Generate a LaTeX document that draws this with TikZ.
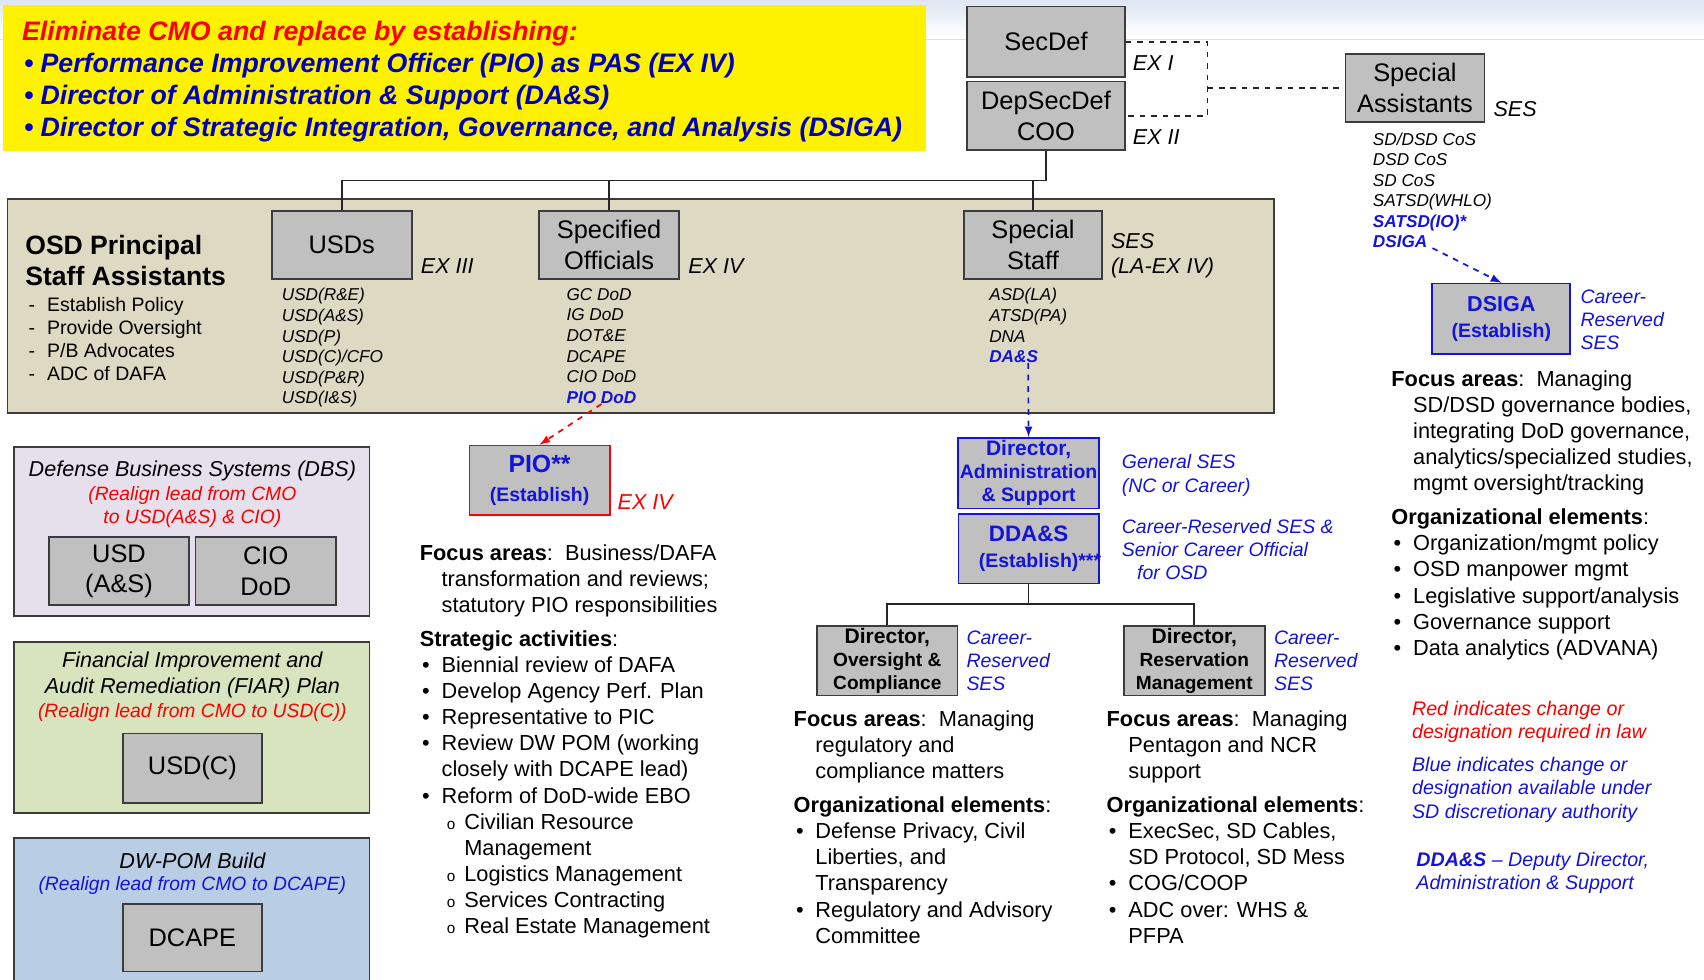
\documentclass[tikz,border=0pt]{standalone}
\usepackage{fontspec}
\setmainfont{Liberation Sans}
\usetikzlibrary{positioning}

\definecolor{boxgray}{RGB}{192,192,192}
\definecolor{edgegray}{RGB}{60,60,60}
\definecolor{tanfill}{RGB}{221,217,195}
\definecolor{lavfill}{RGB}{229,224,236}
\definecolor{grnfill}{RGB}{215,228,189}
\definecolor{bluefill}{RGB}{185,205,229}
\definecolor{chgblue}{RGB}{20,20,215}
\definecolor{navyblue}{RGB}{0,0,185}
\definecolor{lawred}{RGB}{250,0,0}
\definecolor{bandblue}{RGB}{222,230,241}

\newcommand{\fs}[2]{\fontsize{#1}{#2}\selectfont}
\newcommand{\itm}{\makebox[11.4pt][l]{\hspace{1.2pt}\textbullet}}
\newcommand{\ind}{\hspace*{11.4pt}}
\newcommand{\subitm}{\hspace*{14.2pt}\makebox[9.1pt][l]{\fs{8}{8}o}}
\newcommand{\bnr}{\makebox[9.7pt][l]{\hspace{1pt}\textbullet}}
\newcommand{\dsh}{\makebox[9.7pt][l]{-}}

\tikzset{
  gbox/.style={draw=edgegray, line width=0.9pt, fill=boxgray, align=center, inner sep=1pt,
    minimum width=2.58cm, minimum height=1.26cm, font=\fs{13.3}{16}},
  newbox/.style={gbox, draw=chgblue, text=chgblue, font=\bfseries\fs{10.2}{12}},
  panel/.style={draw=edgegray, line width=0.9pt},
  tree/.style={draw=black!85, line width=0.9pt},
  chgarrow/.style={dashed, line width=0.9pt, -latex},
  exlbl/.style={anchor=west, inner sep=0pt, font=\itshape\fs{11.3}{13.1}},
  sublist/.style={anchor=north west, inner sep=0pt, align=left, font=\itshape\fs{9}{10.8}},
  bodytxt/.style={anchor=north west, inner sep=0pt, align=left, font=\fs{11.4}{13.7}},
  sidenote/.style={anchor=north west, inner sep=0pt, align=left, text=chgblue, font=\itshape\fs{10.2}{12}},
  paneltxt/.style={inner sep=0pt, align=center, font=\itshape\fs{11.3}{13.7}},
}

\begin{document}
\begin{tikzpicture}[x=0.02cm, y=-0.02cm]
    \useasboundingbox (0,0) rectangle (1568,901);

    % Title band and banner
    \shade[top color=bandblue, bottom color=white] (0,0) rectangle (1568,34);
    \draw[gray!25] (0,36) -- (1568,36);
    \fill[yellow] (3,5) rectangle (852,139);
    \node[anchor=north west, inner sep=0pt, align=left, font=\bfseries\itshape\fs{14}{16.7}] (banner) at (20,19) {%
        \textcolor{lawred}{Eliminate CMO and replace by establishing:}\\
        \textcolor{navyblue}{\bnr Performance Improvement Officer (PIO) as PAS (EX IV)}\\
        \textcolor{navyblue}{\bnr Director of Administration \& Support (DA\&S)}\\
        \textcolor{navyblue}{\bnr Director of Strategic Integration, Governance, and Analysis (DSIGA)}};

    % Panels
    \draw[panel, fill=tanfill] (7,183) rectangle (1172,380);
    \draw[panel, fill=lavfill] (13,411) rectangle (340,567);
    \draw[panel, fill=grnfill] (13,591) rectangle (340,748);
    \draw[panel, fill=bluefill] (13,771) rectangle (340,915);

    % SecDef, DepSecDef and Special Assistants
    \node[gbox, minimum width=2.9cm, minimum height=1.3cm] (secdef) at (962.5,38.5) {SecDef};
    \node[gbox, minimum width=2.9cm] (depsec) at (962.5,106.5) {DepSecDef\\COO};
    \node[exlbl] (exi) at (1042,58) {EX I};
    \node[exlbl] (exii) at (1042,126) {EX II};
    \node[gbox, minimum width=2.56cm, minimum height=1.24cm] (spasst) at (1302,81) {Special\\Assistants};
    \node[exlbl] (spses) at (1374,100) {SES};
    \node[sublist, font=\itshape\fs{9}{10.7}] (salist) at (1263,122) {SD/DSD CoS\\DSD CoS\\SD CoS\\SATSD(WHLO)\\
        \textcolor{chgblue}{\bfseries SATSD(IO)*}\\\textcolor{chgblue}{\bfseries DSIGA}};

    \coordinate (sajn) at (1111,81);
    \draw[tree, dashed] (secdef.east) -| (sajn) |- (depsec.east);
    \draw[tree, dashed] (sajn) -- (spasst.west);

    % OSD Principal Staff Assistants
    \node[anchor=north west, inner sep=0pt, align=left, font=\bfseries\fs{13.9}{16.5}] (osdttl) at (23,216) {OSD Principal\\Staff Assistants};
    \node[anchor=north west, inner sep=0pt, align=left, font=\fs{10.2}{12.1}] (osdrole) at (26,273) {%
        \dsh Establish Policy\\\dsh Provide Oversight\\\dsh P/B Advocates\\\dsh ADC of DAFA};
    \node[gbox] (usds) at (314.5,225.5) {USDs};
    \node[exlbl] (exiii) at (387,245) {EX III};
    \node[sublist] (usdlist) at (259,265) {USD(R\&E)\\USD(A\&S)\\USD(P)\\USD(C)/CFO\\USD(P\&R)\\USD(I\&S)};
    \node[gbox] (specoff) at (560.5,225.5) {Specified\\Officials};
    \node[exlbl] (exiv) at (633,245) {EX IV};
    \node[sublist] (offlist) at (521,265) {GC DoD\\IG DoD\\DOT\&E\\DCAPE\\CIO DoD\\\textcolor{chgblue}{\bfseries PIO DoD}};
    \node[gbox, minimum width=2.54cm] (specstaff) at (950.5,225.5) {Special\\Staff};
    \node[exlbl, anchor=north west, align=left] (ssses) at (1022,214) {SES\\(LA-EX IV)};
    \node[sublist] (sslist) at (910,265) {ASD(LA)\\ATSD(PA)\\DNA\\\textcolor{chgblue}{\bfseries DA\&S}};

    \coordinate (bus) at (962.5,166);
    \draw[tree] (depsec.south) -- (bus) -| (usds.north);
    \draw[tree] (bus) -| (specoff.north);
    \draw[tree] (bus) -| (specstaff.north);

    % Realigned leads
    \node[paneltxt] (dbsttl) at (177,433) {Defense Business Systems (DBS)};
    \node[paneltxt, text=lawred, font=\itshape\fs{10.1}{12}] (dbsred) at (177,466.5) {(Realign lead from CMO\\to USD(A\&S) \& CIO)};
    \node[gbox] (usdas) at (109.5,525.5) {USD\\(A\&S)};
    \node[gbox] (ciodod) at (244.5,525.5) {CIO\\DoD};
    \node[paneltxt] (fiarttl) at (177,621) {Financial Improvement and\\Audit Remediation (FIAR) Plan};
    \node[paneltxt, text=lawred, font=\itshape\fs{10.1}{12}] (fiarred) at (177,656) {(Realign lead from CMO to USD(C))};
    \node[gbox, minimum width=2.56cm, minimum height=1.28cm] (usdc) at (177,707) {USD(C)};
    \node[paneltxt] (pomttl) at (177,792) {DW-POM Build};
    \node[paneltxt, text=chgblue, font=\itshape\fs{10.1}{12}] (pomblue) at (177,815) {(Realign lead from CMO to DCAPE)};
    \node[gbox, minimum width=2.56cm, minimum height=1.24cm] (dcape) at (177,863) {DCAPE};

    % PIO
    \node[newbox, draw=lawred, minimum height=1.28cm] (pio) at (496.5,442) {{\fs{13}{15}PIO**}\\[3pt](Establish)};
    \node[exlbl, text=lawred] (pioex) at (568,462) {EX IV};
    \draw[chgarrow, lawred] (offlist.south) -- (pio.north);
    \node[bodytxt] (piofocus) at (386,500.5) {%
        \textbf{Focus areas}:\ \ Business/DAFA\\
        \ind transformation and reviews;\\
        \ind statutory PIO responsibilities\\[4pt]
        \textbf{Strategic activities}:\\
        \itm Biennial review of DAFA\\
        \itm Develop Agency Perf. Plan\\
        \itm Representative to PIC\\
        \itm Review DW POM (working\\
        \ind closely with DCAPE lead)\\
        \itm Reform of DoD-wide EBO\\
        \subitm Civilian Resource\\
        \hspace*{23.3pt}Management\\
        \subitm Logistics Management\\
        \subitm Services Contracting\\
        \subitm Real Estate Management};

    % DA&S
    \node[newbox, minimum height=1.3cm] (diras) at (946.5,435.5) {{\fs{11}{13}Director,}\\Administration\\\& Support};
    \node[sidenote, font=\itshape\fs{10.2}{12.5}] (dirasnote) at (1032,417.5) {General SES\\(NC or Career)};
    \draw[chgarrow, chgblue] (sslist.south) -- (diras.north);
    \node[newbox, minimum height=1.28cm] (ddas) at (946.5,505) {{\fs{11.7}{14}DDA\&S}\\[2pt](Establish)\rlap{***}};
    \node[sidenote] (ddasnote) at (1032,477.5) {Career-Reserved SES \&\\Senior Career Official\\\hspace*{8pt}for OSD};

    \node[gbox, font=\bfseries\fs{10}{12}, minimum height=1.28cm] (dirOC) at (816.5,608) {{\fs{11}{12}Director,}\\Oversight \&\\Compliance};
    \node[sidenote] (dirOCnote) at (889,580.5) {Career-\\Reserved\\SES};
    \node[gbox, font=\bfseries\fs{10}{12}, minimum width=2.6cm, minimum height=1.28cm] (dirRM) at (1099,608) {{\fs{11}{12}Director,}\\Reservation\\Management};
    \node[sidenote] (dirRMnote) at (1172,580.5) {Career-\\Reserved\\SES};

    \coordinate (bus2) at (946.5,556);
    \draw[tree] (ddas.south) -- (bus2) -| (dirOC.north);
    \draw[tree] (bus2) -| (dirRM.north);

    \node[bodytxt] (ocfocus) at (730,653.5) {%
        \textbf{Focus areas}:\ \ Managing\\
        \ind regulatory and\\
        \ind compliance matters\\[4pt]
        \textbf{Organizational elements}:\\
        \itm Defense Privacy, Civil\\
        \ind Liberties, and\\
        \ind Transparency\\
        \itm Regulatory and Advisory\\
        \ind Committee};
    \node[bodytxt] (rmfocus) at (1018,653.5) {%
        \textbf{Focus areas}:\ \ Managing\\
        \ind Pentagon and NCR\\
        \ind support\\[4pt]
        \textbf{Organizational elements}:\\
        \itm ExecSec, SD Cables,\\
        \ind SD Protocol, SD Mess\\
        \itm COG/COOP\\
        \itm ADC over: WHS \&\\
        \ind PFPA};

    % DSIGA
    \node[newbox, minimum width=2.54cm, minimum height=1.3cm] (dsiga) at (1381.5,293.5) {{\fs{11.3}{14}DSIGA}\\[2pt](Establish)};
    \node[sidenote] (dsiganote) at (1454,266.5) {Career-\\Reserved\\SES};
    \draw[chgarrow, chgblue] (salist.south) -- (dsiga.north);
    \node[bodytxt] (dsigafocus) at (1280,340.5) {%
        \textbf{Focus areas}:\ \ Managing\\
        \ind SD/DSD governance bodies,\\
        \ind integrating DoD governance,\\
        \ind analytics/specialized studies,\\
        \ind mgmt oversight/tracking\\[4pt]
        \textbf{Organizational elements}:\\
        \itm Organization/mgmt policy\\
        \itm OSD manpower mgmt\\
        \itm Legislative support/analysis\\
        \itm Governance support\\
        \itm Data analytics (ADVANA)};

    % Legend
    \node[sidenote, text=lawred, font=\itshape\fs{10.3}{12.5}] (redkey) at (1299,644.5) {Red indicates change or\\designation required in law};
    \node[sidenote, font=\itshape\fs{10.3}{12.2}] (bluekey) at (1299,696.5) {Blue indicates change or\\designation available under\\SD discretionary authority};
    \node[sidenote, font=\itshape\fs{10.3}{12}] (ddaskey) at (1303,783.5) {\textbf{DDA\&S} -- Deputy Director,\\Administration \& Support};
\end{tikzpicture}
\end{document}
